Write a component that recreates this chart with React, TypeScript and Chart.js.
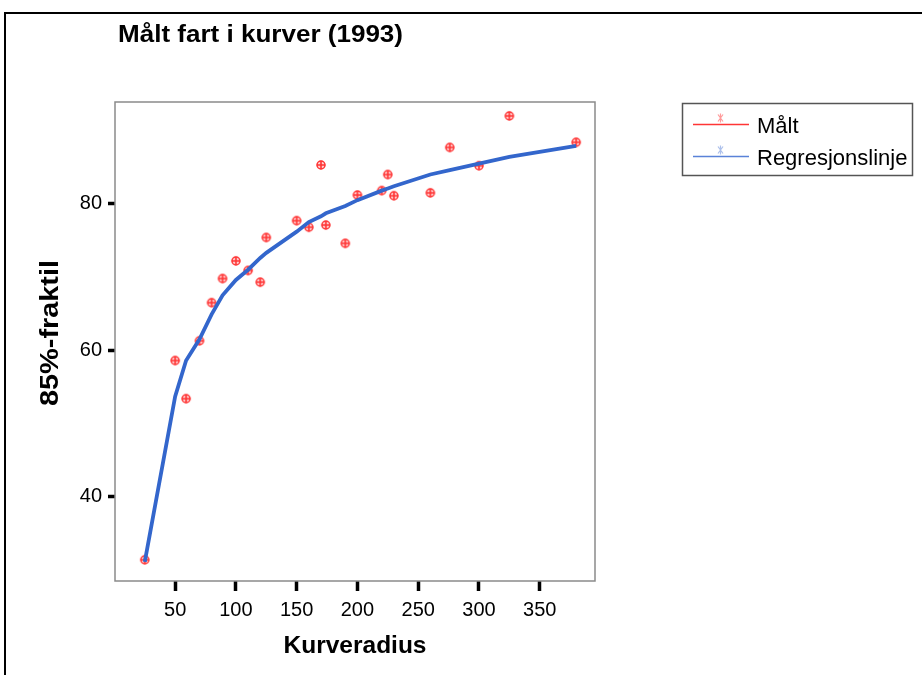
import React, { useEffect, useRef } from 'react';
import { Chart, registerables } from 'chart.js';

Chart.register(...registerables);

// ---- data ----
const radius = [25, 50, 59, 70, 80, 89, 100, 110, 120, 125, 150, 160, 170, 174, 190, 200, 220, 225, 230, 260, 276, 300, 325, 380];
const measured = [31.4, 58.6, 53.4, 61.3, 66.5, 69.8, 72.2, 70.9, 69.3, 75.4, 77.7, 76.8, 85.3, 77.1, 74.6, 81.2, 81.8, 84.0, 81.1, 81.5, 87.7, 85.2, 92.0, 88.4];
const regression = [31.1, 53.7, 58.6, 61.5, 64.9, 67.5, 69.6, 71.0, 72.6, 73.3, 76.2, 77.5, 78.3, 78.7, 79.7, 80.5, 81.8, 82.1, 82.4, 84.0, 84.6, 85.5, 86.4, 87.9];
const xTicks = [50, 100, 150, 200, 250, 300, 350];
const yTicks = [40, 60, 80];
const chartTitle = 'Målt fart i kurver (1993)';
const xTitle = 'Kurveradius';
const yTitle = '85%-fraktil';
const seriesNames = ['Målt', 'Regresjonslinje'];

const FONT = '"Liberation Sans", Arial, Helvetica, sans-serif';
const RED = '#ff3535';
const BLUE = '#3366cc';

function makeMarker(): HTMLCanvasElement {
  const c = document.createElement('canvas');
  c.width = 12;
  c.height = 12;
  const g = c.getContext('2d')!;
  g.fillStyle = 'rgba(255,120,120,0.35)';
  g.beginPath();
  g.arc(6, 6, 4.2, 0, Math.PI * 2);
  g.fill();
  g.strokeStyle = RED;
  g.lineWidth = 1.5;
  g.beginPath();
  g.arc(6, 6, 4.0, 0, Math.PI * 2);
  g.stroke();
  g.lineWidth = 1.6;
  g.beginPath();
  g.moveTo(6, 1.8);
  g.lineTo(6, 10.2);
  g.moveTo(1.8, 6);
  g.lineTo(10.2, 6);
  g.stroke();
  return c;
}

function fitText(ctx: CanvasRenderingContext2D, text: string, x: number, y: number, target: number, align: 'left' | 'center') {
  const w = ctx.measureText(text).width;
  const sx = target / w;
  ctx.save();
  ctx.translate(x, y);
  ctx.scale(sx, 1);
  ctx.textAlign = align;
  ctx.fillText(text, 0, 0);
  ctx.restore();
}

export default function App() {
  const ref = useRef<HTMLCanvasElement>(null);

  useEffect(() => {
    if (!ref.current) return;
    const marker = makeMarker();

    const decor = {
      id: 'decor',
      afterDraw(chart: any) {
        const ctx: CanvasRenderingContext2D = chart.ctx;
        const a = chart.chartArea;
        ctx.save();
        // outer frame (top and left)
        ctx.strokeStyle = '#000';
        ctx.lineWidth = 2;
        ctx.beginPath();
        ctx.moveTo(5, 675);
        ctx.lineTo(5, 13);
        ctx.lineTo(922, 13);
        ctx.stroke();

        // plot border
        ctx.strokeStyle = '#8a8a8a';
        ctx.lineWidth = 1.5;
        ctx.strokeRect(a.left, a.top, a.right - a.left, a.bottom - a.top);

        // title
        ctx.fillStyle = '#000';
        ctx.textBaseline = 'alphabetic';
        ctx.font = `bold 23px ${FONT}`;
        fitText(ctx, chartTitle, 118, 42, 285, 'left');

        // x axis title
        ctx.font = `bold 24px ${FONT}`;
        fitText(ctx, xTitle, (a.left + a.right) / 2, 653, 143, 'center');

        // y axis title
        ctx.save();
        ctx.translate(58, 333);
        ctx.rotate(-Math.PI / 2);
        ctx.font = `bold 25px ${FONT}`;
        fitText(ctx, yTitle, 0, 0, 146, 'center');
        ctx.restore();

        // legend
        ctx.strokeStyle = '#555';
        ctx.lineWidth = 1.5;
        ctx.strokeRect(682.5, 103.5, 230, 72);
        const rows = [
          { name: seriesNames[0], color: RED, y: 124.5 },
          { name: seriesNames[1], color: '#5a82d8', y: 156.5 },
        ];
        rows.forEach((r) => {
          ctx.strokeStyle = r.color;
          ctx.lineWidth = 1.3;
          ctx.beginPath();
          ctx.moveTo(693, r.y);
          ctx.lineTo(749, r.y);
          ctx.stroke();
          ctx.globalAlpha = 0.5;
          ctx.lineWidth = 1.2;
          ctx.beginPath();
          ctx.moveTo(718, r.y - 10);
          ctx.lineTo(723, r.y - 3);
          ctx.moveTo(723, r.y - 10);
          ctx.lineTo(718, r.y - 3);
          ctx.moveTo(720.5, r.y - 11);
          ctx.lineTo(720.5, r.y - 2);
          ctx.stroke();
          ctx.globalAlpha = 1;
          ctx.fillStyle = '#000';
          ctx.font = `22px ${FONT}`;
          ctx.textAlign = 'left';
          ctx.textBaseline = 'alphabetic';
          ctx.fillText(r.name, 757, r.y + 8.5);
        });
        ctx.restore();
      },
    };

    const chart = new Chart(ref.current, {
      type: 'scatter',
      data: {
        datasets: [
          {
            label: seriesNames[1],
            data: radius.map((x, i) => ({ x, y: regression[i] })),
            showLine: true,
            borderColor: BLUE,
            backgroundColor: BLUE,
            borderWidth: 3.8,
            pointRadius: 0,
            tension: 0,
            order: 0,
          },
          {
            label: seriesNames[0],
            data: radius.map((x, i) => ({ x, y: measured[i] })),
            pointStyle: marker,
            pointRadius: 5,
            borderColor: RED,
            backgroundColor: RED,
            showLine: false,
            order: 1,
          },
        ],
      },
      options: {
        responsive: false,
        animation: false,
        layout: { padding: { top: 102, right: 327, left: 0, bottom: 0 } },
        plugins: {
          legend: { display: false },
          tooltip: { enabled: false },
          title: { display: false },
        },
        scales: {
          x: {
            type: 'linear',
            min: 0.5,
            max: 395.5,
            afterFit: (s: any) => {
              s.height = 94;
            },
            afterBuildTicks: (s: any) => {
              s.ticks = xTicks.map((v) => ({ value: v }));
            },
            border: { display: false },
            grid: { display: true, drawOnChartArea: false, drawTicks: true, tickLength: 10, tickWidth: 3.5, tickColor: '#000' },
            ticks: { font: { family: FONT, size: 20 }, color: '#000', padding: 7, maxRotation: 0, autoSkip: false },
          },
          y: {
            type: 'linear',
            min: 28.5,
            max: 93.9,
            afterFit: (s: any) => {
              s.width = 115;
            },
            afterBuildTicks: (s: any) => {
              s.ticks = yTicks.map((v) => ({ value: v }));
            },
            border: { display: false },
            grid: { display: true, drawOnChartArea: false, drawTicks: true, tickLength: 7, tickWidth: 3.5, tickColor: '#000' },
            ticks: { font: { family: FONT, size: 20 }, color: '#000', padding: 6, autoSkip: false },
          },
        },
      },
      plugins: [decor],
    });

    return () => chart.destroy();
  }, []);

  return (
    <div style={{ position: 'absolute', left: 0, top: 0, width: 922, height: 675, background: '#fff' }}>
      <canvas ref={ref} width={922} height={675} style={{ display: 'block', width: 922, height: 675 }} />
    </div>
  );
}
